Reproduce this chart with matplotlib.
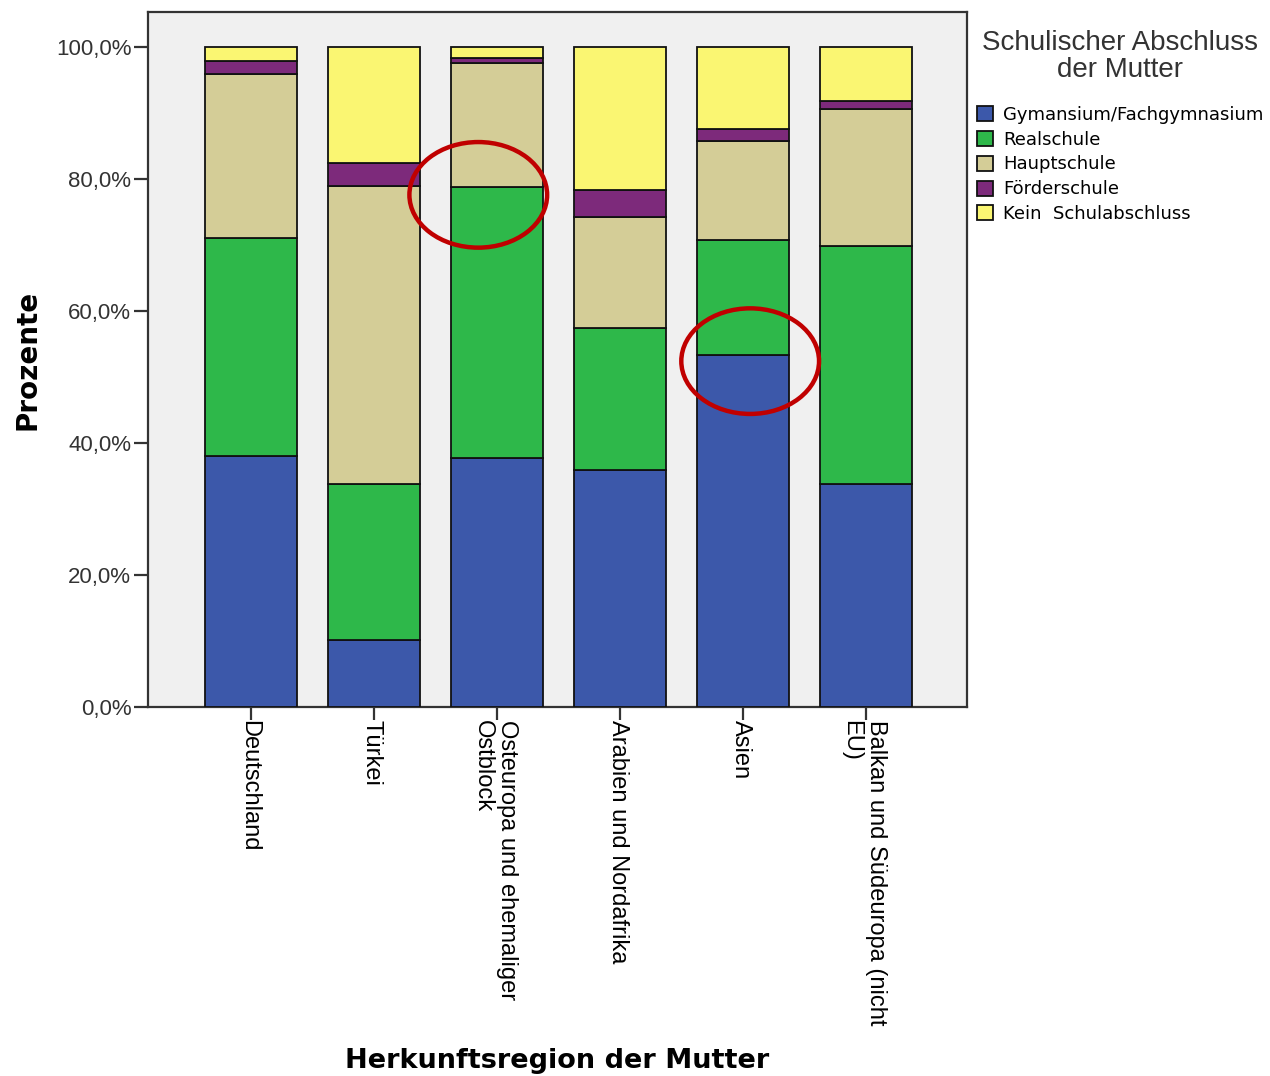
import numpy as np
import matplotlib
matplotlib.use("Agg")
import matplotlib.pyplot as plt
from matplotlib.patches import Ellipse
from matplotlib.transforms import ScaledTranslation
import matplotlib.ticker as ticker

# Herkunftsregion der Mutter
regions = ["Deutschland", "Türkei", "Osteuropa und ehemaliger\nOstblock",
           "Arabien und Nordafrika", "Asien", "Balkan und Südeuropa (nicht\nEU)"]

# Schulischer Abschluss der Mutter, Anteile in Prozent
gymnasium = [38.0, 10.2, 37.7, 35.9, 53.3, 33.8]
realschule = [33.0, 23.6, 41.1, 21.5, 17.5, 36.0]
hauptschule = [24.9, 45.1, 18.8, 16.9, 15.0, 20.8]
foerderschule = [2.0, 3.6, 0.8, 4.1, 1.8, 1.2]
kein_abschluss = [2.1, 17.5, 1.6, 21.6, 12.4, 8.2]

series = [
    ("Gymansium/Fachgymnasium", gymnasium, "#3c58aa"),
    ("Realschule", realschule, "#2eb84a"),
    ("Hauptschule", hauptschule, "#d4cd97"),
    ("Förderschule", foerderschule, "#7d2a7b"),
    ("Kein  Schulabschluss", kein_abschluss, "#faf672"),
]

# markierte Stellen (Region-Index, Prozent)
marks = [(1.846, 77.6), (4.057, 52.4)]

fig = plt.figure(figsize=(12.7, 10.76), dpi=100)
ax = fig.add_axes([0.1165, 0.343, 0.6449, 0.6458])
ax.set_facecolor("#f0f0f0")

x = np.arange(len(regions))
bottom = np.zeros(len(regions))
for name, vals, col in series:
    ax.bar(x, vals, width=0.75, bottom=bottom, color=col, edgecolor="#111111",
           linewidth=1.3, label=name, zorder=3)
    bottom += np.array(vals)

for cx, cy in marks:
    ax.add_patch(Ellipse((cx, cy), 1.12, 16.0, fill=False, edgecolor="#c00000",
                         linewidth=3.2, zorder=5, clip_on=False))

ax.set_xlim(-0.84, 5.82)
ax.set_ylim(0, 105.3)

ax.yaxis.set_major_locator(ticker.MultipleLocator(20))
ax.yaxis.set_major_formatter(ticker.FuncFormatter(lambda v, p: f"{v:.1f}%".replace(".", ",")))
ax.tick_params(axis="y", direction="out", length=10, width=1.6, color="#333333",
               labelsize=16, labelcolor="#333333", pad=2)
for lbl in ax.get_yticklabels():
    lbl.set_family("Liberation Sans")

# x labels drawn by hand: rotated, reading downwards, centred on the tick
ax.set_xticks(x)
ax.set_xticklabels([])
ax.tick_params(axis="x", direction="out", length=9, width=1.6, color="#333333")
shift = ScaledTranslation(-2.5 / 100, -13 / 100, fig.dpi_scale_trans)
for xi, name in zip(x, regions):
    ax.text(xi, 0, name, transform=ax.get_xaxis_transform() + shift,
            rotation=270, rotation_mode="anchor", ha="left", va="center",
            family="Liberation Sans", fontsize=17, linespacing=1.13)

for s in ax.spines.values():
    s.set_color("#333333")
    s.set_linewidth(1.6)

ax.set_ylabel("Prozente", fontsize=20, fontweight="bold", labelpad=10)
fig.text(0.4386, 0.002, "Herkunftsregion der Mutter", fontsize=19.5,
         fontweight="bold", ha="center", va="bottom")

leg = ax.legend(loc="upper left", bbox_to_anchor=(0.7635, 0.979),
                bbox_transform=fig.transFigure, frameon=False,
                title="Schulischer Abschluss\nder Mutter",
                fontsize=13, handlelength=0.9, handleheight=0.9,
                handletextpad=0.55, labelspacing=0.38, borderaxespad=0)
ttl = leg.get_title()
ttl.set_fontsize(20)
ttl.set_family("Liberation Sans")
ttl.set_color("#333333")
ttl.set_linespacing(1.05)
ttl.set_multialignment("center")
leg._legend_box.sep = 16.5

fig.savefig("out.png", dpi=100, facecolor="white")
